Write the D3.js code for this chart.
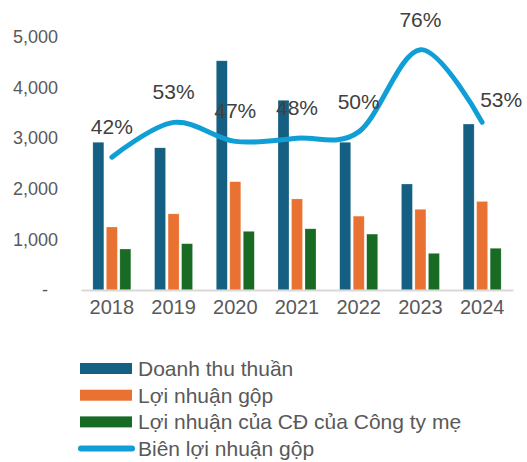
<!DOCTYPE html>
<html>
<head>
<meta charset="utf-8">
<script src="https://cdn.jsdelivr.net/npm/d3@7"></script>
<style>
  body { margin: 0; background: #fff; }
  svg text { font-family: "Liberation Sans", Arial, sans-serif; }
</style>
</head>
<body>
<svg id="chart" width="527" height="462"></svg>
<script>
// chart data
var years = ["2018", "2019", "2020", "2021", "2022", "2023", "2024"];
var doanhThu = [2920, 2810, 4530, 3750, 2920, 2095, 3280];
var loiNhuanGop = [1245, 1505, 2140, 1800, 1460, 1595, 1750];
var loiNhuanCongTyMe = [810, 915, 1160, 1210, 1105, 725, 825];
var bienLoiNhuan = [0.42, 0.53, 0.47, 0.48, 0.50, 0.76, 0.53];
var yTicks = [0, 1000, 2000, 3000, 4000, 5000];
var seriesNames = ["Doanh thu thuần", "Lợi nhuận gộp", "Lợi nhuận của CĐ của Công ty mẹ", "Biên lợi nhuận gộp"];

var colors = ["#156082", "#e97132", "#196b24", "#0f9ed5"];
var svg = d3.select("#chart");

var x = d3.scaleBand().domain(years).range([81, 513]);
var y = d3.scaleLinear().domain([0, 5000]).range([290, 37]);
var y2 = d3.scaleLinear().domain([0, 0.8]).range([290, 37]);

var groupW = 38;
var xSub = d3.scaleBand().domain([0, 1, 2])
    .range([(x.bandwidth() - groupW) / 2, (x.bandwidth() + groupW) / 2])
    .paddingInner(0.185);

// y axis labels
var yAxis = d3.axisLeft(y).tickValues(yTicks).tickSize(0).tickPadding(0)
    .tickFormat(function (d) { return d === 0 ? "-" : d3.format(",")(d); });
var gy = svg.append("g").attr("transform", "translate(58,0)").call(yAxis);
gy.select(".domain").remove();
gy.selectAll("text")
    .attr("fill", "#595959")
    .style("font-size", "18px")
    .attr("dx", function (d) { return d === 0 ? "-10" : "0"; });

// bars
var series = [doanhThu, loiNhuanGop, loiNhuanCongTyMe];
series.forEach(function (vals, s) {
    svg.append("g").selectAll("rect")
        .data(vals)
        .enter()
        .append("rect")
        .attr("x", function (d, i) { return x(years[i]) + xSub(s); })
        .attr("y", function (d) { return y(d); })
        .attr("width", xSub.bandwidth())
        .attr("height", function (d) { return y(0) - y(d); })
        .attr("fill", colors[s])
        .attr("stroke", "#ffffff")
        .attr("stroke-opacity", 0.4)
        .attr("stroke-width", 0.6);
});

// x axis
var xAxis = d3.axisBottom(x).tickSize(0).tickPadding(10);
var gx = svg.append("g").attr("transform", "translate(0," + y(0) + ")").call(xAxis);
gx.select(".domain").attr("stroke", "#d9d9d9").attr("stroke-width", 2);
gx.selectAll("text")
    .attr("fill", "#595959")
    .style("font-size", "20px");

// margin line
var line = d3.line()
    .x(function (d, i) { return x(years[i]) + x.bandwidth() / 2; })
    .y(function (d) { return y2(d); })
    .curve(d3.curveCardinal.tension(0));

svg.append("path")
    .datum(bienLoiNhuan)
    .attr("d", line)
    .attr("fill", "none")
    .attr("stroke", colors[3])
    .attr("stroke-width", 5)
    .attr("stroke-linecap", "round");

// percent labels
svg.append("g").selectAll("text")
    .data(bienLoiNhuan)
    .enter()
    .append("text")
    .attr("x", function (d, i) {
        var cx = x(years[i]) + x.bandwidth() / 2;
        return i === bienLoiNhuan.length - 1 ? cx + 19 : cx;
    })
    .attr("y", function (d, i) {
        return y2(d) - (i === bienLoiNhuan.length - 1 ? 15 : 23);
    })
    .attr("text-anchor", "middle")
    .attr("fill", "#404040")
    .style("font-size", "21px")
    .text(function (d) { return d3.format(".0%")(d); });

// legend
var legend = svg.append("g").selectAll("g")
    .data(seriesNames)
    .enter()
    .append("g")
    .attr("transform", function (d, i) { return "translate(0," + (368.5 + i * 26.7) + ")"; });

legend.each(function (d, i) {
    var g = d3.select(this);
    if (i < 3) {
        g.append("rect")
            .attr("x", 80).attr("y", -5.5)
            .attr("width", 52).attr("height", 11)
            .attr("fill", colors[i]);
    } else {
        g.append("line")
            .attr("x1", 81).attr("x2", 132)
            .attr("y1", 0).attr("y2", 0)
            .attr("stroke", colors[3])
            .attr("stroke-width", 6)
            .attr("stroke-linecap", "round");
    }
    g.append("text")
        .attr("x", 138)
        .attr("y", 7.5)
        .attr("fill", "#595959")
        .style("font-size", "21px")
        .text(d);
});
</script>
</body>
</html>
